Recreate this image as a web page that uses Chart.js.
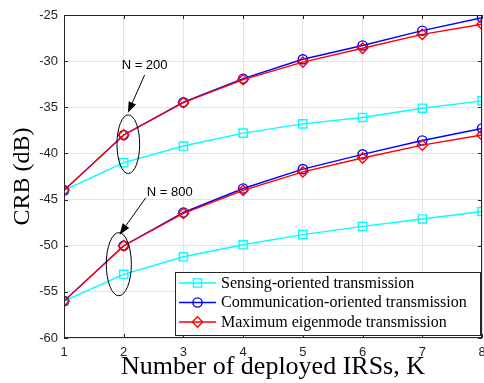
<!DOCTYPE html>
<html lang="en">
<head>
  <meta charset="UTF-8">
  <title>CRB versus number of IRSs</title>
  <script src="https://cdn.jsdelivr.net/npm/chart.js"></script>
  <style>
    html, body {
      margin: 0;
      padding: 0;
      background: #fff;
    }

    #wrap {
      width: 484px;
      height: 383px;
      position: relative;
    }
  </style>
</head>
<body>
  <div id="wrap"><canvas id="crbChart"></canvas></div>

  <script>
    // number of deployed IRSs
    const K = [1, 2, 3, 4, 5, 6, 7, 8];

    // N = 200
    const sensing200 = [-44, -41, -39.2, -37.8, -36.8, -36.1, -35.1, -34.3];
    const comm200 = [-44, -38, -34.45, -31.9, -29.8, -28.3, -26.7, -25.3];
    const maxEig200 = [-44, -38, -34.5, -32.0, -30.1, -28.6, -27.1, -26.0];

    // N = 800
    const sensing800 = [-56, -53.1, -51.2, -49.9, -48.8, -47.9, -47.1, -46.3];
    const comm800 = [-56, -50, -46.4, -43.8, -41.7, -40.1, -38.6, -37.3];
    const maxEig800 = [-56, -50, -46.5, -44.0, -42.0, -40.5, -39.1, -38.0];

    const yTicks = [-60, -55, -50, -45, -40, -35, -30, -25];

    const legendNames = [
      'Sensing-oriented transmission',
      'Communication-oriented transmission',
      'Maximum eigenmode transmission'
    ];

    // annotation shapes in data units
    const ellipses = [
      { cx: 2.077, cy: -39.0, rx: 0.19, ry: 3.18 },
      { cx: 1.918, cy: -52.0, rx: 0.21, ry: 3.42 }
    ];
    const arrows = [
      { x0: 2.35, y0: -31.5, x1: 2.07, y1: -35.6 },
      { x0: 2.37, y0: -44.8, x1: 1.93, y1: -48.8 }
    ];
    const notes = [
      { x: 2.35, y: -30.5, text: 'N = 200' },
      { x: 2.77, y: -44.27, text: 'N = 800' }
    ];

    const CYAN = '#00ffff', BLUE = '#0000ff', RED = '#ff0000';
    const AXIS = '#262626';

    const styles = {
      sensing: { color: CYAN, pointStyle: 'rect', radius: 5.8 },
      comm: { color: BLUE, pointStyle: 'circle', radius: 4.6 },
      maxEig: { color: RED, pointStyle: 'rectRot', radius: 5.2 }
    };

    function series(values, kind) {
      const s = styles[kind];
      return {
        data: K.map((k, i) => ({ x: k, y: values[i] })),
        borderColor: s.color,
        backgroundColor: 'rgba(0,0,0,0)',
        borderWidth: 1.4,
        pointStyle: s.pointStyle,
        pointRadius: s.radius,
        pointBorderWidth: 1.4,
        pointBorderColor: s.color,
        pointBackgroundColor: 'rgba(0,0,0,0)',
        tension: 0
      };
    }

    function drawMarker(ctx, kind, x, y) {
      const s = styles[kind];
      ctx.save();
      ctx.strokeStyle = s.color;
      ctx.lineWidth = 1.4;
      ctx.beginPath();
      if (s.pointStyle === 'rect') {
        const h = s.radius * Math.SQRT1_2;
        ctx.rect(x - h, y - h, 2 * h, 2 * h);
      } else if (s.pointStyle === 'circle') {
        ctx.arc(x, y, s.radius, 0, Math.PI * 2);
      } else {
        ctx.moveTo(x, y - s.radius);
        ctx.lineTo(x + s.radius, y);
        ctx.lineTo(x, y + s.radius);
        ctx.lineTo(x - s.radius, y);
        ctx.closePath();
      }
      ctx.stroke();
      ctx.restore();
    }

    // keep the plot box fixed, ignore label overflow padding
    function noPad(scale) {
      scale.paddingLeft = 0;
      scale.paddingRight = 0;
      scale.paddingTop = 0;
      scale.paddingBottom = 0;
    }

    const extras = {
      id: 'extras',
      afterDatasetsDraw(chart) {
        const { ctx, chartArea: a, scales } = chart;
        const xs = scales.x, ys = scales.y;

        // frame and inner ticks
        ctx.save();
        ctx.strokeStyle = AXIS;
        ctx.lineWidth = 1;
        ctx.strokeRect(a.left + 0.5, a.top + 0.5, a.right - a.left - 1, a.bottom - a.top - 1);
        ctx.beginPath();
        K.forEach(k => {
          const px = Math.round(xs.getPixelForValue(k)) + 0.5;
          ctx.moveTo(px, a.bottom); ctx.lineTo(px, a.bottom - 4);
          ctx.moveTo(px, a.top); ctx.lineTo(px, a.top + 4);
        });
        yTicks.forEach(v => {
          const py = Math.round(ys.getPixelForValue(v)) + 0.5;
          ctx.moveTo(a.left, py); ctx.lineTo(a.left + 4, py);
          ctx.moveTo(a.right, py); ctx.lineTo(a.right - 4, py);
        });
        ctx.stroke();
        ctx.restore();

        // ellipses, arrows and labels
        ctx.save();
        ctx.strokeStyle = '#000';
        ctx.fillStyle = '#000';
        ctx.lineWidth = 1;
        ellipses.forEach(e => {
          const cx = xs.getPixelForValue(e.cx), cy = ys.getPixelForValue(e.cy);
          const rx = Math.abs(xs.getPixelForValue(e.cx + e.rx) - cx);
          const ry = Math.abs(ys.getPixelForValue(e.cy + e.ry) - cy);
          ctx.beginPath();
          ctx.ellipse(cx, cy, rx, ry, 0, 0, Math.PI * 2);
          ctx.stroke();
        });
        arrows.forEach(ar => {
          const x0 = xs.getPixelForValue(ar.x0), y0 = ys.getPixelForValue(ar.y0);
          const x1 = xs.getPixelForValue(ar.x1), y1 = ys.getPixelForValue(ar.y1);
          const ang = Math.atan2(y1 - y0, x1 - x0);
          const len = 11, half = 4;
          const bx = x1 - len * Math.cos(ang), by = y1 - len * Math.sin(ang);
          ctx.beginPath();
          ctx.moveTo(x0, y0);
          ctx.lineTo(bx, by);
          ctx.stroke();
          ctx.beginPath();
          ctx.moveTo(x1, y1);
          ctx.lineTo(bx + half * Math.sin(ang), by - half * Math.cos(ang));
          ctx.lineTo(bx - half * Math.sin(ang), by + half * Math.cos(ang));
          ctx.closePath();
          ctx.fill();
        });
        ctx.font = '13px "Liberation Sans", Arial, sans-serif';
        ctx.textAlign = 'center';
        ctx.textBaseline = 'middle';
        notes.forEach(n => {
          ctx.fillText(n.text, xs.getPixelForValue(n.x), ys.getPixelForValue(n.y));
        });
        ctx.restore();

        // legend box in the lower right corner
        const w = 305, h = 63;
        const lx = Math.round(a.right) - 2 - w, ly = Math.round(a.bottom) - 3 - h;
        ctx.save();
        ctx.fillStyle = '#fff';
        ctx.fillRect(lx, ly, w, h);
        ctx.strokeStyle = AXIS;
        ctx.lineWidth = 1;
        ctx.strokeRect(lx + 0.5, ly + 0.5, w, h);
        ctx.font = '16px "Liberation Serif", "Times New Roman", serif';
        ctx.textAlign = 'left';
        ctx.textBaseline = 'middle';
        ['sensing', 'comm', 'maxEig'].forEach((kind, i) => {
          const ry = ly + 11 + i * 19.5;
          ctx.strokeStyle = styles[kind].color;
          ctx.lineWidth = 1.4;
          ctx.beginPath();
          ctx.moveTo(lx + 4, ry);
          ctx.lineTo(lx + 41, ry);
          ctx.stroke();
          drawMarker(ctx, kind, lx + 22.5, ry);
          ctx.fillStyle = '#000';
          ctx.fillText(legendNames[i], lx + 46, ry + 0.5);
        });
        ctx.restore();
      }
    };

    const chart = new Chart(document.getElementById('crbChart'), {
      type: 'line',
      data: {
        datasets: [
          series(maxEig200, 'maxEig'),
          series(maxEig800, 'maxEig'),
          series(comm200, 'comm'),
          series(comm800, 'comm'),
          series(sensing200, 'sensing'),
          series(sensing800, 'sensing')
        ]
      },
      options: {
        responsive: true,
        maintainAspectRatio: false,
        animation: false,
        layout: {
          autoPadding: false,
          padding: { top: 15, right: 2, left: 0, bottom: 0 }
        },
        plugins: {
          legend: { display: false },
          tooltip: { enabled: false }
        },
        scales: {
          x: {
            type: 'linear',
            min: 1,
            max: 8,
            afterFit: scale => { scale.height = 45; noPad(scale); },
            afterBuildTicks: scale => { scale.ticks = K.map(v => ({ value: v })); },
            grid: { color: '#e3e3e3', drawTicks: false },
            border: { display: false },
            ticks: {
              color: AXIS,
              padding: 7,
              font: { family: '"Liberation Sans", Arial, sans-serif', size: 13 }
            },
            title: {
              display: true,
              text: 'Number of deployed IRSs, K',
              color: '#000',
              padding: 0,
              font: { family: '"Liberation Serif", "Times New Roman", serif', size: 26 }
            }
          },
          y: {
            min: -60,
            max: -25,
            afterFit: scale => { scale.width = 64; noPad(scale); },
            afterBuildTicks: scale => { scale.ticks = yTicks.map(v => ({ value: v })); },
            grid: { color: '#e3e3e3', drawTicks: false },
            border: { display: false },
            ticks: {
              color: AXIS,
              padding: 6,
              font: { family: '"Liberation Sans", Arial, sans-serif', size: 13 }
            },
            title: {
              display: true,
              text: 'CRB (dB)',
              color: '#000',
              padding: { top: 8, bottom: 0 },
              font: { family: '"Liberation Serif", "Times New Roman", serif', size: 24 }
            }
          }
        }
      },
      plugins: [extras]
    });
  </script>
</body>
</html>
